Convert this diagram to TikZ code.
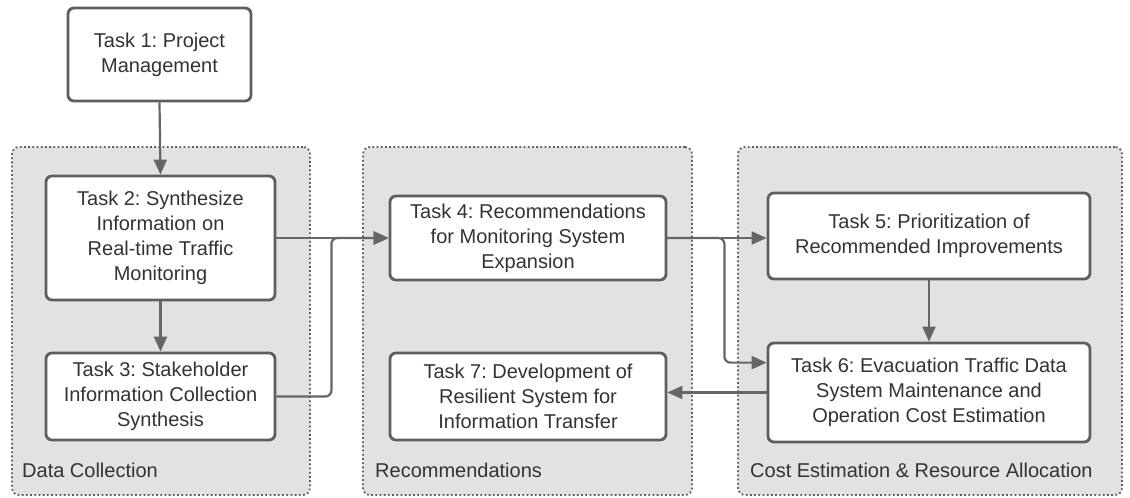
\documentclass[tikz,border=0pt]{standalone}
\usepackage{fontspec}
\setmainfont{Liberation Sans}
\usetikzlibrary{arrows.meta,calc}
\definecolor{grpfill}{HTML}{E2E2E2}
\definecolor{grpline}{HTML}{606060}
\definecolor{boxline}{HTML}{5E5E5E}
\definecolor{arrline}{HTML}{666666}
\definecolor{txt}{HTML}{333333}
\begin{document}
\frenchspacing
\begin{tikzpicture}[x=1pt,y=-1pt,
  group/.style={draw=grpline,fill=grpfill,line width=1.8pt,dash pattern=on 1.8pt off 2.4pt,rounded corners=7pt,inner sep=0pt},
  taskbox/.style={draw=boxline,fill=white,line width=2.8pt,rounded corners=6pt,align=center,
    text=txt,font=\fontsize{20}{25}\selectfont,inner sep=0pt},
  grplabel/.style={anchor=base west,text=txt,font=\fontsize{20}{22}\selectfont,inner sep=0pt},
  conn/.style={draw=arrline,line width=2.2pt,rounded corners=6pt,-{Triangle[length=15pt,width=13pt]}}]
\useasboundingbox (0,0) rectangle (1130,498);
% groups
\node[group,minimum width=298pt,minimum height=348pt] (g1) at (161,321) {};
\node[group,minimum width=329pt,minimum height=348pt] (g2) at (527.5,321) {};
\node[group,minimum width=384pt,minimum height=348pt] (g3) at (930,321) {};
\node[grplabel] (l1) at (22,477) {Data Collection};
\node[grplabel] (l2) at (375,477) {Recommendations};
\node[grplabel] (l3) at (750,477) {Cost Estimation \& Resource Allocation};
% tasks
\node[taskbox,minimum width=183pt,minimum height=93pt] (t1) at (159.5,54.5) {Task 1: Project\\Management};
\node[taskbox,minimum width=229pt,minimum height=124pt] (t2) at (160.5,238) {Task 2: Synthesize\\Information on\\Real-time Traffic\\Monitoring};
\node[taskbox,minimum width=229pt,minimum height=87pt] (t3) at (160.5,396.5) {Task 3: Stakeholder\\Information Collection\\Synthesis};
\node[taskbox,minimum width=276pt,minimum height=84pt] (t4) at (528,238) {Task 4: Recommendations\\for Monitoring System\\Expansion};
\node[taskbox,minimum width=276pt,minimum height=87pt] (t7) at (528,396.5) {Task 7: Development of\\Resilient System for\\Information Transfer};
\node[taskbox,minimum width=322pt,minimum height=86pt] (t5) at (929,236) {Task 5: Prioritization of\\Recommended Improvements};
\node[taskbox,minimum width=322pt,minimum height=99pt] (t6) at (929,392.5) {Task 6: Evacuation Traffic Data\\System Maintenance and\\Operation Cost Estimation};
% connectors
\draw[conn] (t1.south) -- (t2.north);
\draw[conn] (t2.south) -- (t3.north);
\draw[conn] (t2.east) -- (t4.west);
\draw[conn] (t3.east) -- ++(55,0) |- (t4.west);
\draw[conn] (t4.east) -- (t4.east -| t5.west);
\coordinate (t6in) at ($(t6.north west)+(0,21)$);
\draw[conn] (t4.east) -- ++(57,0) |- (t6in);
\draw[conn] (t5.south -| t6.north) -- (t6.north);
\draw[conn] (t6.west) -- (t6.west -| t7.east);
\end{tikzpicture}
\end{document}
